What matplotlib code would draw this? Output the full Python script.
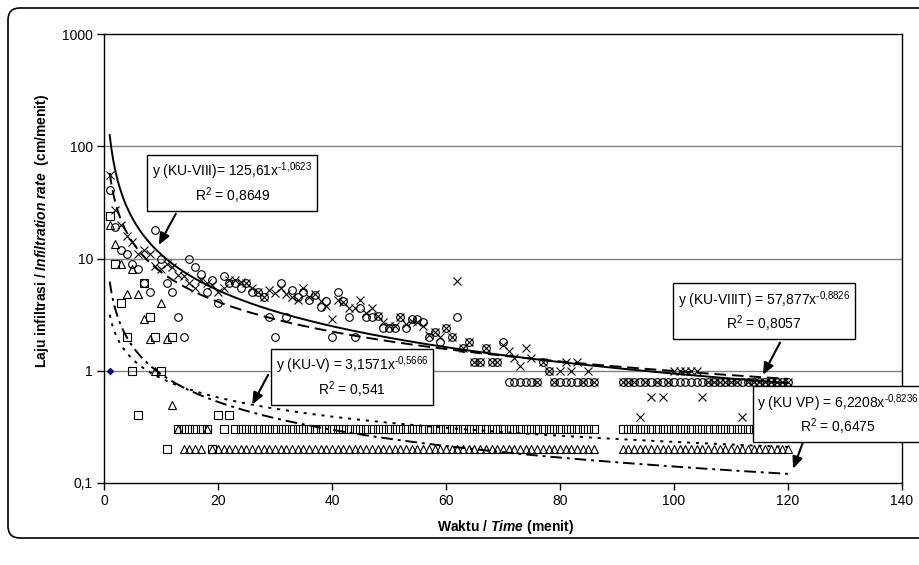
import numpy as np
import matplotlib.pyplot as plt
from matplotlib.patches import FancyBboxPatch

plt.rcParams['font.family'] = ['Liberation Sans', 'DejaVu Sans']
plt.rcParams['font.size'] = 10
plt.rcParams['mathtext.fontset'] = 'custom'
plt.rcParams['mathtext.rm'] = 'Liberation Sans'
plt.rcParams['mathtext.it'] = 'Liberation Sans:italic'
plt.rcParams['mathtext.bf'] = 'Liberation Sans:bold'
plt.rcParams['mathtext.bfit'] = 'Liberation Sans:italic:bold'

# time (minutes): readings at 1..86 and 91..120
time = list(range(1, 87)) + list(range(91, 121))

# KU-VIII (circles)
ku_viii = [41, 19, 12, 11, 9, 8, 6, 5, 18, 10,
           6, 5, 3.0, 2.0, 10, 8.4, 7.3, 5, 6.5, 4,
           7, 6, 6, 5.5, 6, 5, 5, 4.5, 3.0, 2.0,
           6, 3, 5.2, 4.5, 5, 4.3, 4.7, 3.7, 4.2, 2.0,
           5, 4.2, 3, 2, 3.6, 3.0, 3, 3.1, 2.4, 2.4,
           2.4, 3.0, 2.4, 2.9, 2.9, 2.7, 2.0, 2.2, 1.8, 2.4,
           2.0, 3.0, 1.6, 1.8, 1.2, 1.2, 1.6, 1.2, 1.2, 1.8,
           0.8, 0.8, 0.8, 0.8, 0.8, 0.8, 1.2, 1.0, 0.8, 0.8,
           0.8, 0.8, 0.8, 0.8, 0.8, 0.8] + [0.8] * 30

# KU-VIIIT (crosses)
ku_viiit = [55, 27, 20, 16, 14, 11, 12, 11, 8.5, 8,
            9, 8.4, 7.1, 7, 6, 5.5, 6.5, 6, 5.8, 5,
            5.5, 6.5, 6.5, 6.2, 6, 5.5, 5, 4.5, 5.2, 4.9,
            5.5, 4.8, 4.5, 4.3, 5.5, 4.5, 4.8, 4.2, 3.8, 2.9,
            4.3, 4.1, 3.6, 3.6, 4.3, 3.3, 3.6, 3.1, 2.7, 2.5,
            2.5, 3.0, 2.6, 2.8, 2.7, 2.5, 2.1, 2.2, 2.0, 2.4,
            2.0, 6.3, 1.6, 1.8, 1.2, 1.2, 1.6, 1.2, 1.2, 1.7,
            1.5, 1.3, 1.1, 1.6, 1.3, 0.8, 1.2, 1.0, 0.8, 1.0,
            1.2, 1.0, 1.2, 0.8, 1.0, 0.8,
            0.8, 0.8, 0.8, 0.39, 0.8, 0.58, 0.8, 0.58, 0.8, 1.0,
            1.0, 1.0, 1.0, 1.0, 0.58, 0.8, 0.8, 0.8, 0.8, 0.8,
            0.8, 0.39, 0.8, 0.8, 0.8, 0.8, 0.8, 0.8, 0.8, 0.8]

# KU-V (squares)
ku_v = [24, 9, 4, 2, 1, 0.4, 6, 3, 2, 1,
        0.2, 2, 0.3, 0.3, 0.3, 0.3, 0.3, 0.3, 0.2, 0.4,
        0.3, 0.4] + [0.3] * 64 + [0.3] * 30

# KU VP (triangles)
ku_vp = [20, 13.5, 9, 4.8, 8, 4.8, 2.9, 1.9, 1.0, 4.0,
         1.9, 0.5, 0.3, 0.2, 0.2, 0.2, 0.2, 0.3, 0.2, 0.2] + [0.2] * 66 + [0.2] * 30

# trend lines y = a * x^b
fit_a = {'KU-VIII': 125.61, 'KU-VIIIT': 57.877, 'KU-V': 3.1571, 'KU VP': 6.2208}
fit_b = {'KU-VIII': -1.0623, 'KU-VIIIT': -0.8826, 'KU-V': -0.5666, 'KU VP': -0.8236}

fig = plt.figure(figsize=(9.2, 5.65), dpi=100)
ax = fig.add_axes([104 / 920, 1 - 483 / 565, 798 / 920, 449 / 565])

border = FancyBboxPatch((0.08, 0.27), 9.3, 5.30, boxstyle='round,pad=0,rounding_size=0.12',
                        transform=fig.dpi_scale_trans, fc='none', ec='black', lw=1.2)
fig.add_artist(border)

mk = dict(ls='none', mfc='none', mec='black', mew=0.8)
ax.plot(time, ku_viii, marker='o', ms=5.5, **mk)
ax.plot(time, ku_viiit, marker='x', ms=5.5, **mk)
ax.plot(time, ku_v, marker='s', ms=5.5, **mk)
ax.plot(time, ku_vp, marker='^', ms=6, **mk)
ax.plot([1], [1], marker='D', ms=3, color='#000080', ls='none')

xf = np.linspace(1, 120, 400)
ax.plot(xf, fit_a['KU-VIII'] * xf ** fit_b['KU-VIII'], color='black', lw=1.4)
ax.plot(xf, fit_a['KU-VIIIT'] * xf ** fit_b['KU-VIIIT'], color='black', lw=1.4, dashes=(6, 3))
ax.plot(xf, fit_a['KU-V'] * xf ** fit_b['KU-V'], color='black', lw=1.4, dashes=(1.6, 3))
ax.plot(xf, fit_a['KU VP'] * xf ** fit_b['KU VP'], color='black', lw=1.4, dashes=(6, 2.5, 1.5, 2.5))

ax.set_yscale('log')
ax.set_xlim(0, 140)
ax.set_ylim(0.1, 1000)
ax.set_xticks(range(0, 141, 20))
ax.set_yticks([0.1, 1, 10, 100, 1000])
ax.set_yticklabels(['0,1', '1', '10', '100', '1000'])
ax.minorticks_off()
ax.tick_params(direction='out', length=5, width=1, labelsize=10, pad=3)
for y in [1, 10, 100]:
    ax.axhline(y, color='#808080', lw=1, zorder=0)
for s in ax.spines.values():
    s.set_color('black')
    s.set_linewidth(1)

box = dict(boxstyle='square,pad=0.35', fc='white', ec='black', lw=1)
ax.text(22.5, 47, 'y (KU-VIII)= 125,61x$^{\\text{-1,0623}}$\nR$^{2}$ = 0,8649',
        ha='center', va='center', multialignment='center', bbox=box, zorder=5)
ax.text(43.5, 0.87, 'y (KU-V) = 3,1571x$^{\\text{-0,5666}}$\nR$^{2}$ = 0,541',
        ha='center', va='center', multialignment='center', bbox=box, zorder=5)
ax.text(115.8, 3.35, 'y (KU-VIIIT) = 57,877x$^{\\text{-0,8826}}$\nR$^{2}$ = 0,8057',
        ha='center', va='center', multialignment='center', bbox=box, zorder=5)
ax.text(128.8, 0.405, 'y (KU VP) = 6,2208x$^{\\text{-0,8236}}$\nR$^{2}$ = 0,6475',
        ha='center', va='center', multialignment='center', bbox=box, zorder=5, clip_on=False)

arrow = dict(arrowstyle='-|>,head_length=0.7,head_width=0.3', color='black', lw=1.5,
             shrinkA=0, shrinkB=0)
ax.annotate('', xy=(9.6, 13.2), xytext=(12.6, 25), arrowprops=arrow)
ax.annotate('', xy=(26, 0.5), xytext=(28.8, 0.92), arrowprops=arrow)
ax.annotate('', xy=(115.6, 0.92), xytext=(118.6, 1.78), arrowprops=arrow)
ax.annotate('', xy=(120.9, 0.134), xytext=(122.6, 0.229), arrowprops=arrow, annotation_clip=False)

fig.text(505 / 920, 1 - 527 / 565, r'$\mathbf{Waktu\ /\ }\mathbfit{Time}\mathbf{\ (menit)}$',
         ha='center', va='center', fontsize=10)
fig.text(42 / 920, 1 - 231 / 565,
         r'$\mathbf{Laju\ infiltrasi\ /\ }\mathbfit{Infiltration\ rate}\mathbf{\ \ (cm/menit)}$',
         ha='center', va='center', rotation=90, fontsize=10)

fig.savefig('out.png', dpi=100)
